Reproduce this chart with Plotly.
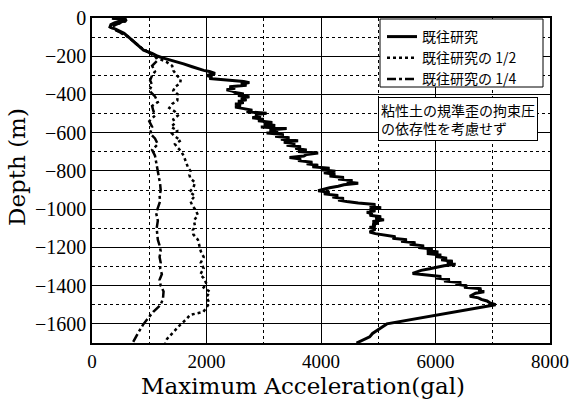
import plotly.graph_objects as go

# 既往研究 (solid)
depth_full = [0, -8, -16, -25, -35, -47, -60, -80, -100, -120, -140, -155, -168, -185, -200, -210, -225, -240, -255,
              -265, -274, -280, -290, -300, -310, -316, -325, -332, -338, -345, -352, -360, -368, -375, -382, -390,
              -398, -405, -412, -420, -428, -435, -442, -450, -458, -466, -474, -482, -490, -498, -506, -514, -522,
              -530, -538, -546, -554, -562, -570, -578, -586, -594, -602, -610, -618, -626, -634, -642, -650, -658,
              -666, -674, -682, -690, -698, -706, -714, -722, -730, -738, -746, -754, -762, -770, -778, -786, -794,
              -802, -810, -818, -826, -834, -842, -850, -858, -864, -872, -880, -888, -896, -904, -912, -920, -928,
              -936, -944, -952, -960, -968, -976, -984, -992, -1000, -1008, -1016, -1024, -1032, -1040, -1048, -1056,
              -1064, -1072, -1080, -1088, -1096, -1104, -1112, -1120, -1128, -1136, -1144, -1152, -1160, -1168,
              -1176, -1184, -1192, -1200, -1208, -1216, -1224, -1232, -1240, -1248, -1256, -1264, -1272, -1280,
              -1288, -1296, -1304, -1312, -1320, -1328, -1336, -1344, -1352, -1360, -1368, -1376, -1384, -1392,
              -1400, -1408, -1416, -1424, -1432, -1440, -1448, -1456, -1464, -1472, -1480, -1490, -1500, -1600,
              -1620, -1650, -1668, -1700]
acc_full = [350, 600, 580, 400, 330, 315, 420, 560, 640, 720, 800, 850, 900, 1050, 1150, 1250, 1450, 1600, 1750,
            1850, 1950, 2050, 2150, 2000, 2100, 2050, 2450, 2650, 2750, 2600, 2700, 2400, 2500, 2350, 2450, 2500,
            2650, 2550, 2750, 2600, 2700, 2550, 2650, 2500, 2600, 2500, 2650, 2800, 2700, 3050, 2850, 2950, 2800,
            3000, 2900, 3150, 3000, 3200, 2950, 3400, 3100, 3250, 3050, 3350, 3200, 3450, 3300, 3600, 3350, 3550,
            3400, 3650, 3550, 3750, 3600, 3950, 3750, 3700, 3450, 3650, 3600, 3850, 3750, 3950, 3850, 4150, 4000,
            4250, 4050, 4250, 4150, 4400, 4300, 4550, 4450, 4650, 4400, 4300, 4150, 4050, 3950, 4150, 4050, 4300,
            4200, 4400, 4300, 4450, 4650, 4950, 4850, 5050, 4850, 4950, 4800, 4900, 4850, 5050, 4950, 5100,
            4900, 5000, 4900, 4950, 4850, 4950, 4900, 4850, 4950, 5100, 5300, 5250, 5500, 5400,
            5650, 5550, 5800, 5700, 5950, 5850, 6050, 5850, 6100, 6000, 6200, 6100, 6300, 6200,
            6350, 6150, 6050, 5900, 5750, 5650, 5600, 5850, 6100, 6000, 6250, 6150, 6450, 6350,
            6550, 6500, 6800, 6750, 6850, 6700, 6650, 6600, 6750, 6800, 6900, 6950, 7050, 5150,
            5050, 4900, 4850, 4620]

# 既往研究の1/2 (dotted)
depth_half = [0, -16, -47, -100, -150, -190, -210, -230, -250, -274, -300, -320, -342, -360, -380, -400, -432, -450,
              -470, -490, -510, -530, -550, -570, -590, -605, -620, -640, -660, -680, -695, -720, -740, -760, -784,
              -800, -820, -840, -860, -889, -910, -930, -958, -980, -1000, -1030, -1060, -1090, -1110, -1132, -1160,
              -1190, -1220, -1250, -1280, -1310, -1342, -1360, -1390, -1410, -1432, -1460, -1490, -1515, -1537, -1553,
              -1575, -1605, -1640, -1679, -1700]
acc_half = [350, 580, 315, 640, 830, 1050, 1150, 1300, 1400, 1420, 1480, 1550, 1540, 1450, 1420, 1500, 1490, 1400,
            1350, 1450, 1500, 1420, 1450, 1380, 1500, 1400, 1450, 1550, 1450, 1500, 1550, 1600, 1620, 1650, 1680,
            1720, 1700, 1720, 1800, 1770, 1700, 1800, 1720, 1750, 1800, 1850, 1780, 1800, 1760, 1770, 1850,
            1880, 1900, 1950, 1900, 1950, 1890, 1950, 2000, 1950, 2060, 2000, 2050, 2000, 1945, 1715,
            1650, 1540, 1430, 1310, 1280]

# 既往研究の1/4 (dash-dot)
depth_quarter = [0, -16, -47, -100, -150, -180, -200, -220, -250, -280, -300, -326, -350, -380, -410, -440, -460,
                 -484, -510, -540, -570, -605, -630, -660, -690, -720, -750, -784, -810, -840, -868, -900, -930, -958,
                 -990, -1020, -1060, -1100, -1132, -1160, -1190, -1220, -1250, -1280, -1310, -1340, -1370, -1400,
                 -1430, -1468, -1500, -1537, -1570, -1605, -1650, -1695, -1700]
acc_quarter = [350, 580, 315, 640, 830, 1000, 1100, 1150, 1050, 1100, 1050, 1015, 1050, 1000, 1100, 1150, 1050,
               1070, 1100, 1000, 1050, 1015, 1100, 1150, 1050, 1100, 1120, 1140, 1150, 1180, 1190, 1200, 1180, 1190,
               1150, 1120, 1150, 1130, 1140, 1150, 1180, 1200, 1180, 1200, 1190, 1220, 1180, 1200,
               1250, 1240, 1200, 1070, 980, 890, 800, 720, 710]

x_ticks = [0, 2000, 4000, 6000, 8000]
y_ticks = [0, -200, -400, -600, -800, -1000, -1200, -1400, -1600]

fig = go.Figure()
fig.add_trace(go.Scatter(x=acc_full, y=depth_full, mode="lines", name="既往研究",
                         line=dict(color="black", width=3)))
fig.add_trace(go.Scatter(x=acc_half, y=depth_half, mode="lines", name="既往研究の 1/2",
                         line=dict(color="black", width=2.5, dash="dot")))
fig.add_trace(go.Scatter(x=acc_quarter, y=depth_quarter, mode="lines", name="既往研究の 1/4",
                         line=dict(color="black", width=2.5, dash="dashdot")))

# plot area in pixels: x 92..550, y 18..343
L, R, T, B = 92, 550, 18, 343
W, H = R - L, B - T


def px(x):
    return (x - L) / W


def py(y):
    return (B - y) / H


title_font = "DejaVu Serif"
fig.update_layout(
    width=571, height=402,
    margin=dict(l=L, r=571 - R, t=T, b=402 - B),
    paper_bgcolor="white", plot_bgcolor="white",
    showlegend=True,
    legend=dict(x=px(382), y=py(21), xanchor="left", yanchor="top",
                bgcolor="rgba(0,0,0,0)", borderwidth=0,
                font=dict(family="Noto Sans CJK JP", size=14, color="black"),
                tracegroupgap=0, itemwidth=30),
    shapes=[dict(type="rect", xref="paper", yref="paper", x0=px(380), x1=px(543), y0=py(87), y1=py(19),
                 line=dict(color="black", width=1), fillcolor="white", layer="above")],
    annotations=[
        dict(xref="paper", yref="paper", x=px(378), y=py(97), xanchor="left", yanchor="top",
             text="粘性土の規準歪の拘束圧<br>の依存性を考慮せず", showarrow=False, align="left",
             font=dict(family="Noto Sans CJK JP", size=14, color="black"),
             bgcolor="white", bordercolor="black", borderwidth=1, borderpad=2),
        dict(xref="paper", yref="paper", x=px(303), y=py(386),
             xanchor="center", yanchor="middle", text="Maximum Acceleration(gal)", showarrow=False,
             font=dict(family=title_font, size=23, color="black")),
        dict(xref="paper", yref="paper", x=px(17), y=py(167),
             xanchor="center", yanchor="middle", text="Depth (m)", showarrow=False, textangle=-90,
             font=dict(family=title_font, size=23, color="black")),
    ],
)
fig.update_xaxes(range=[0, 8000], tickvals=x_ticks, ticks="", showline=True, mirror=True,
                 linecolor="black", linewidth=1.5, automargin=False,
                 showgrid=True, gridcolor="black", gridwidth=1,
                 minor=dict(dtick=1000, showgrid=True, gridcolor="black", griddash="dot", gridwidth=1),
                 zeroline=False,
                 tickfont=dict(family="Liberation Serif", size=19, color="black"))
fig.update_yaxes(range=[-1700, 0], tickvals=y_ticks, ticks="", showline=True, mirror=True,
                 linecolor="black", linewidth=1.5, automargin=False,
                 showgrid=True, gridcolor="black", gridwidth=1,
                 minor=dict(dtick=100, showgrid=True, gridcolor="black", griddash="dot", gridwidth=1),
                 zeroline=False,
                 tickfont=dict(family="Liberation Serif", size=20, color="black"))

fig.write_html("out.html", config={"displayModeBar": False},
               post_script="document.body.style.margin='0';")
